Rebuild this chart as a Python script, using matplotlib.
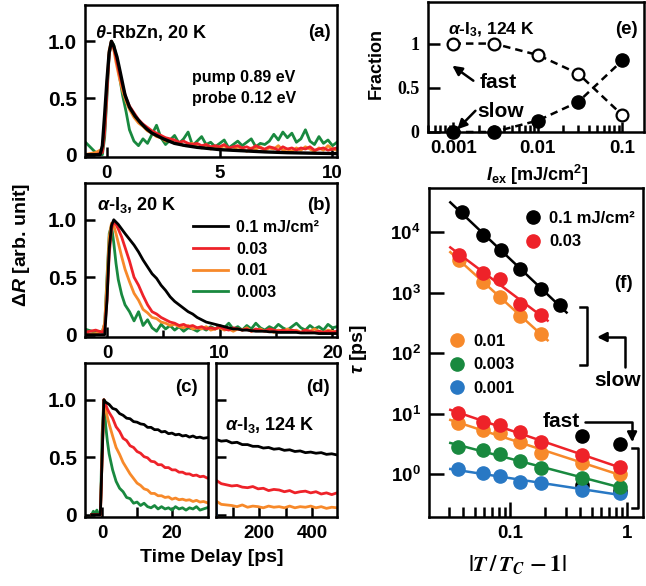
import numpy as np
import matplotlib.pyplot as plt
from matplotlib.lines import Line2D
from matplotlib.ticker import FixedLocator, NullLocator, NullFormatter

plt.rcParams["font.family"] = ["Liberation Sans", "DejaVu Sans"]
plt.rcParams["font.weight"] = "bold"
plt.rcParams["axes.labelweight"] = "bold"
plt.rcParams["mathtext.fontset"] = "custom"
plt.rcParams["mathtext.rm"] = "Liberation Sans:bold"
plt.rcParams["mathtext.it"] = "Liberation Sans:italic:bold"
plt.rcParams["mathtext.bf"] = "Liberation Sans:bold"

RED = "#ee2229"
ORANGE = "#f7892a"
GREEN = "#19893f"
BLUE = "#2878c4"

# ---------------- (a) theta-RbZn, 20 K
a_fit_t = [-1.0, -0.3, -0.2, -0.1, 0.0, 0.1, 0.2, 0.3, 0.45, 0.6, 0.8, 1.0, 1.25,
           1.5, 1.75, 2.0, 2.5, 3.0, 3.5, 4.0, 5.0, 6.0, 7.0, 8.0, 9.0, 10.2]
a_fit = [0.0, 0.0, 0.08, 0.35, 0.65, 0.9, 1.0, 0.96, 0.86, 0.72, 0.53, 0.42, 0.34,
         0.28, 0.23, 0.19, 0.14, 0.1, 0.08, 0.065, 0.045, 0.035, 0.025, 0.018, 0.014, 0.01]
a_t = np.concatenate([[-1.0, -0.5, -0.2, -0.1, 0.0, 0.1, 0.2, 0.3, 0.4, 0.55, 0.7, 0.85],
                      np.arange(1.0, 10.21, 0.2)])
a_red = [0.0, 0.0, 0.02, 0.2, 0.55, 0.88, 1.0, 0.95, 0.86, 0.72, 0.6, 0.5,
         0.43, 0.37, 0.31, 0.27, 0.24, 0.21, 0.19, 0.17, 0.15, 0.14, 0.13, 0.11, 0.12, 0.10, 0.09,
         0.10, 0.08, 0.09, 0.07, 0.08, 0.07, 0.09, 0.06, 0.07, 0.08, 0.06, 0.07, 0.05, 0.08, 0.06,
         0.05, 0.07, 0.06, 0.04, 0.07, 0.05, 0.06, 0.04, 0.06, 0.05, 0.07, 0.04, 0.05, 0.06, 0.04,
         0.05, 0.06]
a_orange = [0.0, 0.02, 0.05, 0.25, 0.6, 0.92, 1.0, 0.93, 0.82, 0.68, 0.56, 0.47,
            0.4, 0.33, 0.28, 0.25, 0.21, 0.19, 0.16, 0.15, 0.12, 0.13, 0.1, 0.11, 0.08, 0.09, 0.1,
            0.07, 0.06, 0.09, 0.05, 0.07, 0.06, 0.08, 0.05, 0.04, 0.07, 0.05, 0.03, 0.06, 0.05, 0.07,
            0.04, 0.06, 0.05, 0.08, 0.04, 0.05, 0.03, 0.06, 0.04, 0.07, 0.05, 0.03, 0.06, 0.04, 0.08,
            0.05, 0.04]
a_green = [0.12, 0.02, 0.0, 0.15, 0.5, 0.88, 1.0, 0.97, 0.88, 0.7, 0.52, 0.38,
           0.22, 0.12, 0.08, 0.14, 0.1, 0.18, 0.26, 0.15, 0.09, 0.13, 0.17, 0.1, 0.14, 0.2, 0.08,
           0.12, 0.16, 0.09, 0.11, 0.07, 0.1, 0.13, 0.06, 0.09, 0.12, 0.08, 0.11, 0.14, 0.07, 0.1,
           0.09, 0.12, 0.18, 0.13, 0.2, 0.15, 0.19, 0.11, 0.14, 0.22, 0.12, 0.09, 0.16, 0.1, 0.13,
           0.08, 0.11]

# ---------------- (b) alpha-I3, 20 K
b_t = np.concatenate([[-2.0, -1.0, -0.4, -0.2, 0.0, 0.2, 0.4, 0.6, 0.8, 1.0, 1.3, 1.6],
                      np.arange(2.0, 20.41, 0.4)])
b_black = [0.0, 0.0, 0.0, 0.0, 0.3, 0.75, 0.95, 1.0, 0.98, 0.96, 0.92, 0.88,
           0.83, 0.78, 0.72, 0.65, 0.59, 0.53, 0.49, 0.43, 0.385, 0.33, 0.29, 0.26, 0.23, 0.2, 0.18,
           0.15, 0.13, 0.11, 0.1, 0.09, 0.08, 0.07, 0.06, 0.05, 0.05, 0.04, 0.04, 0.035, 0.03, 0.03,
           0.03, 0.025, 0.025, 0.02, 0.02, 0.02, 0.02, 0.02, 0.015, 0.015, 0.015, 0.015, 0.01, 0.01,
           0.01, 0.01, 0.01]
b_red = [0.02, 0.04, 0.02, 0.05, 0.3, 0.7, 0.92, 0.98, 0.96, 0.92, 0.85, 0.76,
         0.64, 0.5, 0.43, 0.34, 0.26, 0.2, 0.18, 0.15, 0.13, 0.11, 0.1, 0.08, 0.09, 0.07, 0.08,
         0.06, 0.07, 0.05, 0.06, 0.05, 0.07, 0.05, 0.04, 0.06, 0.05, 0.04, 0.05, 0.03, 0.05, 0.04,
         0.03, 0.05, 0.04, 0.03, 0.04, 0.03, 0.04, 0.03, 0.02, 0.04, 0.03, 0.02, 0.03, 0.02, 0.03,
         0.02, 0.03]
b_orange = [0.0, 0.01, 0.03, 0.1, 0.45, 0.85, 0.97, 0.95, 0.88, 0.8, 0.68, 0.57,
            0.46, 0.36, 0.3, 0.22, 0.19, 0.15, 0.14, 0.11, 0.1, 0.08, 0.09, 0.07, 0.06, 0.08, 0.05,
            0.06, 0.05, 0.07, 0.04, 0.05, 0.06, 0.04, 0.05, 0.03, 0.05, 0.04, 0.06, 0.03, 0.04, 0.05,
            0.03, 0.04, 0.02, 0.04, 0.03, 0.05, 0.03, 0.04, 0.02, 0.04, 0.03, 0.05, 0.03, 0.02, 0.04,
            0.03, 0.02]
b_green = [0.05, 0.02, 0.03, 0.1, 0.5, 0.88, 0.95, 0.8, 0.62, 0.48, 0.35, 0.26,
           0.2, 0.12, 0.2, 0.08, 0.13, 0.06, 0.03, 0.09, 0.05, 0.08, 0.04, 0.07, 0.03, 0.06, 0.05,
           0.03, 0.06, 0.04, 0.07, 0.05, 0.08, 0.06, 0.1, 0.05, 0.07, 0.04, 0.08, 0.05, 0.1, 0.06,
           0.04, 0.07, 0.05, 0.09, 0.06, 0.04, 0.07, 0.1, 0.06, 0.04, 0.08, 0.05, 0.07, 0.04, 0.09,
           0.06, 0.07]
b_labels = ["0.1 mJ/cm²", "0.03", "0.01", "0.003"]

# ---------------- (c) alpha-I3, 124 K, short delay
c_t = np.concatenate([[-3.0, -2.5, -2.0, -1.5, -1.0, -0.5, 0.0, 0.5, 1.0, 1.5],
                      np.arange(2.0, 30.01, 1.0)])
c_black = [0, 0, 0, 0, 0, 0, 0.5, 1.0, 0.98, 0.97,
           0.96, 0.925, 0.915, 0.88, 0.865, 0.84, 0.835, 0.81, 0.805, 0.79,
           0.785, 0.76, 0.76, 0.74, 0.74, 0.72, 0.725, 0.705, 0.71, 0.695,
           0.7, 0.685, 0.69, 0.675, 0.685, 0.67, 0.675, 0.665, 0.67]
c_red = [0, 0, 0, 0, 0, 0, 0.5, 1.0, 0.96, 0.92,
         0.89, 0.84, 0.765, 0.725, 0.665, 0.645, 0.6, 0.585, 0.55, 0.535,
         0.505, 0.495, 0.465, 0.46, 0.435, 0.435, 0.41, 0.41, 0.39, 0.39,
         0.37, 0.37, 0.355, 0.355, 0.34, 0.345, 0.33, 0.335, 0.32]
c_orange = [0, 0, 0, 0, 0, 0, 0.5, 1.0, 0.92, 0.85,
            0.79, 0.685, 0.585, 0.525, 0.455, 0.405, 0.355, 0.315, 0.275, 0.255,
            0.225, 0.215, 0.185, 0.185, 0.165, 0.165, 0.15, 0.155, 0.135, 0.145,
            0.13, 0.135, 0.125, 0.13, 0.115, 0.125, 0.11, 0.115, 0.105]
c_green = [0.0, 0.03, 0.01, 0.04, 0.0, 0.0, 0.7, 1.0, 0.78, 0.64,
           0.53, 0.39, 0.29, 0.23, 0.2, 0.15, 0.14, 0.1, 0.11, 0.08,
           0.1, 0.07, 0.06, 0.08, 0.05, 0.07, 0.05, 0.06, 0.04, 0.07,
           0.05, 0.06, 0.04, 0.06, 0.05, 0.07, 0.04, 0.05, 0.06]

# ---------------- (d) alpha-I3, 124 K, long delay
d_t = np.arange(35, 496, 20)
d_black = [0.655, 0.64, 0.645, 0.625, 0.63, 0.61, 0.61, 0.595, 0.595, 0.58, 0.585, 0.57,
           0.575, 0.56, 0.565, 0.55, 0.555, 0.54, 0.545, 0.535, 0.54, 0.525, 0.53, 0.52]
d_red = [0.30, 0.27, 0.26, 0.25, 0.255, 0.24, 0.235, 0.245, 0.225, 0.23, 0.21, 0.22,
         0.215, 0.2, 0.21, 0.19, 0.2, 0.205, 0.19, 0.2, 0.18, 0.19, 0.175, 0.19]
d_orange = [0.12, 0.09, 0.085, 0.08, 0.07, 0.085, 0.065, 0.075, 0.07, 0.06, 0.075, 0.065,
            0.07, 0.06, 0.075, 0.06, 0.07, 0.065, 0.075, 0.06, 0.07, 0.055, 0.065, 0.06]
d_blue_t = [35, 36, 37]
d_blue = [0.1, 0.05, 0.0]

# ---------------- (e) fraction vs excitation
e_iex = [0.001, 0.003, 0.01, 0.03, 0.1]
e_fast = [1.0, 1.0, 0.87, 0.66, 0.19]
e_slow = [0.0, 0.0, 0.13, 0.34, 0.81]

# ---------------- (f) tau vs reduced temperature
f_x_slow_black = [0.039, 0.059, 0.084, 0.122, 0.183, 0.267]
f_slow_black = [21600, 8900, 5040, 2500, 1170, 620]
f_x_slow = [0.037, 0.059, 0.082, 0.122, 0.186]
f_slow_red = [4170, 2130, 1650, 645, 425]
f_slow_orange = [3450, 1510, 850, 410, 206]
f_x_fast = [0.036, 0.059, 0.082, 0.122, 0.186, 0.41, 0.87]
f_fast_red = [10.1, 7.3, 6.5, 5.0, 3.4, 2.06, 1.29]
f_fast_orange = [6.9, 5.3, 4.7, 3.4, 2.25, 1.54, 1.0]
f_fast_green = [2.83, 2.49, 2.14, 1.66, 1.24, 0.85, 0.62]
f_fast_blue = [1.19, 1.03, 0.93, 0.75, 0.70, 0.54, 0.48]
f_x_fast_black = [0.41, 0.87]
f_fast_black = [4.2, 3.2]
f_fast_black_low = [0.65, 0.52]


def power_fit(x, y, x0, x1):
    coef = np.polyfit(np.log10(x), np.log10(y), 1)
    xx = np.array([x0, x1])
    return xx, 10 ** np.polyval(coef, np.log10(xx))


W, H = 646, 586
fig = plt.figure(figsize=(W / 100, H / 100), dpi=100)


def px_axes(x0, y0, x1, y1):
    return fig.add_axes([x0 / W, 1 - y1 / H, (x1 - x0) / W, (y1 - y0) / H])


def style(ax, ylen=7):
    for s in ax.spines.values():
        s.set_linewidth(1.8)
    ax.tick_params(which="both", direction="in", width=1.8, pad=6)
    ax.tick_params(axis="x", which="major", length=7, labelsize=13.5)
    ax.tick_params(axis="y", which="major", length=ylen, labelsize=15)


ax_a = px_axes(85, 5, 337, 157)
ax_b = px_axes(85, 183, 337, 337)
ax_c = px_axes(85, 363, 208, 517)
ax_d = px_axes(216, 363, 337, 517)
ax_e = px_axes(428, 2, 644, 132)
ax_f = px_axes(429, 188, 643, 517)
ax_f.patch.set_alpha(0)

LW = 2.0
# (a)
ax_a.plot(a_t, a_green, color=GREEN, lw=LW)
ax_a.plot(a_t, a_orange, color=ORANGE, lw=LW)
ax_a.plot(a_t, a_red, color=RED, lw=LW)
ax_a.plot(a_fit_t, a_fit, color="k", lw=2.4)
ax_a.set_xlim(-0.97, 10.2)
ax_a.set_ylim(-0.02, 1.32)
ax_a.set_xticks([0, 5, 10])
ax_a.set_yticks([0, 0.5, 1.0], ["0", "0.5", "1.0"])
ax_a.text(0.04, 0.816, r"$\theta$-RbZn, 20 K", transform=ax_a.transAxes, va="center", size=13)
ax_a.text(0.976, 0.816, "(a)", transform=ax_a.transAxes, va="center", ha="right", size=13.5)
ax_a.text(0.425, 0.526, "pump 0.89 eV", transform=ax_a.transAxes, va="center", size=11.5)
ax_a.text(0.425, 0.388, "probe 0.12 eV", transform=ax_a.transAxes, va="center", size=11.5)
style(ax_a)

# (b)
lb = []
for vals, col in [(b_green, GREEN), (b_orange, ORANGE), (b_red, RED), (b_black, "k")]:
    lb.append(ax_b.plot(b_t, vals, color=col, lw=LW)[0])
ax_b.set_xlim(-1.95, 20.4)
ax_b.set_ylim(-0.02, 1.32)
ax_b.set_xticks([0, 10, 20])
ax_b.xaxis.set_minor_locator(FixedLocator([5, 15]))
ax_b.set_yticks([0, 0.5, 1.0], ["0", "0.5", "1.0"])
ax_b.legend(lb[::-1], b_labels, loc="upper left", bbox_to_anchor=(0.43, 0.76), frameon=False,
            fontsize=11.5, handlelength=2.2, handletextpad=0.5, labelspacing=0.42,
            borderpad=0, borderaxespad=0)
ax_b.text(0.048, 0.857, r"$\alpha$-I$_3$, 20 K", transform=ax_b.transAxes, va="center", size=13)
ax_b.text(0.976, 0.857, "(b)", transform=ax_b.transAxes, va="center", ha="right", size=13.5)
style(ax_b)
ax_b.tick_params(axis="x", which="minor", length=5)

# (c)
for vals, col in [(c_green, GREEN), (c_orange, ORANGE), (c_red, RED), (c_black, "k")]:
    ax_c.plot(c_t, vals, color=col, lw=LW)
ax_c.set_xlim(-4.9, 30.3)
ax_c.set_ylim(-0.02, 1.32)
ax_c.set_xticks([0, 10, 20], ["0", "", "20"])
ax_c.set_yticks([0, 0.5, 1.0], ["0", "0.5", "1.0"])
ax_c.text(0.919, 0.838, "(c)", transform=ax_c.transAxes, va="center", ha="right", size=13.5)
style(ax_c)

# (d)
for vals, col in [(d_orange, ORANGE), (d_red, RED), (d_black, "k")]:
    ax_d.plot(d_t, vals, color=col, lw=LW)
ax_d.plot(d_blue_t, d_blue, color=BLUE, lw=LW)
ax_d.set_xlim(35, 495)
ax_d.set_ylim(-0.02, 1.32)
ax_d.set_xticks([100, 200, 300, 400], ["", "200", "", "400"])
ax_d.set_yticks([0, 0.5, 1.0], ["", "", ""])
ax_d.text(0.942, 0.838, "(d)", transform=ax_d.transAxes, va="center", ha="right", size=13.5)
ax_d.text(0.074, 0.597, r"$\alpha$-I$_3$, 124 K", transform=ax_d.transAxes, va="center", size=13)
style(ax_d)

fig.text(22 / W, 1 - 245 / H, r"Δ$R$ [arb. unit]", rotation=90, ha="center", va="center", size=14)
fig.text(212 / W, 1 - 557 / H, "Time Delay [ps]", ha="center", va="center", size=14)

# (e)
ax_e.plot(e_iex, e_fast, ls=(0, (3, 2)), color="k", lw=1.8, marker="o", ms=8.5,
          mfc="white", mec="k", mew=1.6, clip_on=False, zorder=3)
ax_e.plot(e_iex, e_slow, ls=(0, (3, 2)), color="k", lw=1.8, marker="o", ms=9.5,
          mfc="k", mec="k", clip_on=False, zorder=3)
ax_e.set_xscale("log")
ax_e.set_xlim(0.0005, 0.18)
ax_e.set_ylim(0, 1.47)
ax_e.set_xticks([0.001, 0.01, 0.1], ["0.001", "0.01", "0.1"])
ax_e.set_yticks([0, 0.5, 1], ["0", "0.5", "1"])
ax_e.xaxis.set_minor_formatter(NullFormatter())
style(ax_e, ylen=8.5)
ax_e.tick_params(axis="y", labelsize=13)
ax_e.tick_params(axis="x", which="minor", length=5)
for lbl in ax_e.get_yticklabels():
    lbl.set_fontfamily("Liberation Serif")
ax_e.set_ylabel("Fraction", size=13)
ax_e.yaxis.set_label_coords(-0.20, 0.53)
ax_e.set_xlabel(r"$I_{\rm ex}$ [mJ/cm$^2$]", size=13)
ax_e.xaxis.set_label_coords(0.505, -0.235)
ax_e.text(0.093, 0.785, r"$\alpha$-I$_3$, 124 K", transform=ax_e.transAxes, va="center", size=12.5)
ax_e.text(0.972, 0.785, "(e)", transform=ax_e.transAxes, va="center", ha="right", size=13.5)
ax_e.text(0.241, 0.377, "fast", transform=ax_e.transAxes, va="center", size=15)
ax_e.text(0.227, 0.154, "slow", transform=ax_e.transAxes, va="center", size=15)
arrow = dict(arrowstyle="-|>", color="k", lw=1.8, mutation_scale=14, shrinkA=0, shrinkB=0)
ax_e.annotate("", xy=(0.00097, 0.75), xytext=(0.00172, 0.58), arrowprops=arrow)
ax_e.annotate("", xy=(0.00111, 0.03), xytext=(0.00182, 0.24), arrowprops=arrow)

# (f)
MS = 9.5
ax_f.plot(f_x_fast_black, f_fast_black_low, "o", color="k", ms=MS, zorder=2)
for vals, col in [(f_fast_blue, BLUE), (f_fast_green, GREEN), (f_fast_orange, ORANGE),
                  (f_fast_red, RED)]:
    xx, yy = power_fit(f_x_fast, vals, 0.031, 0.95)
    ax_f.plot(xx, yy, color=col, lw=1.8, zorder=3)
    ax_f.plot(f_x_fast, vals, "o", color=col, ms=MS, zorder=3)
for vals, col in [(f_slow_orange, ORANGE), (f_slow_red, RED)]:
    xx, yy = power_fit(f_x_slow, vals, 0.031, 0.21)
    ax_f.plot(xx, yy, color=col, lw=1.8, zorder=3)
    ax_f.plot(f_x_slow, vals, "o", color=col, ms=MS, zorder=3)
xx, yy = power_fit(f_x_slow_black, f_slow_black, 0.031, 0.305)
ax_f.plot(xx, yy, color="k", lw=1.8, zorder=3)
ax_f.plot(f_x_slow_black, f_slow_black, "o", color="k", ms=MS, zorder=3)
ax_f.plot(f_x_fast_black, f_fast_black, "o", color="k", ms=MS, zorder=3)
ax_f.set_xscale("log")
ax_f.set_yscale("log")
ax_f.set_xlim(0.0204, 1.37)
ax_f.set_ylim(0.195, 53700)
ax_f.set_xticks([0.1, 1], ["0.1", "1"])
ax_f.xaxis.set_minor_formatter(NullFormatter())
ax_f.set_yticks([1, 10, 100, 1000, 10000])
ax_f.yaxis.set_minor_locator(NullLocator())
style(ax_f, ylen=11)
ax_f.tick_params(axis="x", which="major", length=11)
ax_f.tick_params(axis="x", which="minor", length=7)
ax_f.tick_params(axis="y", labelsize=13.5)
ax_f.set_ylabel(r"$\tau$ [ps]", size=14)
ax_f.yaxis.set_label_coords(-0.28, 0.51)
ax_f.set_xlabel(r"$|T\,/\,T_C\,-1|$", size=16, math_fontfamily="stix")
ax_f.xaxis.set_label_coords(0.411, -0.11)

h1 = [Line2D([], [], marker="o", ls="none", color=c, ms=MS) for c in ["k", RED]]
leg1 = ax_f.legend(h1, ["0.1 mJ/cm²", "0.03"], loc="upper left", bbox_to_anchor=(0.449, 0.93),
                   frameon=False, fontsize=12, handlelength=1.0, handletextpad=0.45,
                   labelspacing=0.5, borderpad=0, borderaxespad=0)
ax_f.add_artist(leg1)
h2 = [Line2D([], [], marker="o", ls="none", color=c, ms=MS) for c in [ORANGE, GREEN, BLUE]]
ax_f.legend(h2, ["0.01", "0.003", "0.001"], loc="upper left", bbox_to_anchor=(0.093, 0.556),
            frameon=False, fontsize=12, handlelength=1.0, handletextpad=0.45,
            labelspacing=0.5, borderpad=0, borderaxespad=0)

ax_f.text(0.907, 0.711, "(f)", transform=ax_f.transAxes, va="center", ha="center", size=13.5)
ax_f.plot([0.706, 0.738, 0.738, 0.706], [0.638, 0.638, 0.462, 0.462], color="k", lw=1.8,
          transform=ax_f.transAxes, clip_on=False)
ax_f.plot([0.949, 0.977, 0.977, 0.949], [0.21, 0.21, 0.027, 0.027], color="k", lw=1.8,
          transform=ax_f.transAxes, clip_on=False)
ax_f.annotate("", xy=(0.785, 0.547), xytext=(0.916, 0.456), xycoords="axes fraction",
              arrowprops=dict(arrow, connectionstyle="angle,angleA=90,angleB=0,rad=0"))
ax_f.annotate("", xy=(0.949, 0.228), xytext=(0.729, 0.289), xycoords="axes fraction",
              arrowprops=dict(arrow, connectionstyle="angle,angleA=0,angleB=90,rad=0"))
ax_f.text(0.883, 0.416, "slow", transform=ax_f.transAxes, va="center", ha="center", size=15)
ax_f.text(0.617, 0.289, "fast", transform=ax_f.transAxes, va="center", ha="center", size=15)

fig.savefig("out.png", dpi=100)
